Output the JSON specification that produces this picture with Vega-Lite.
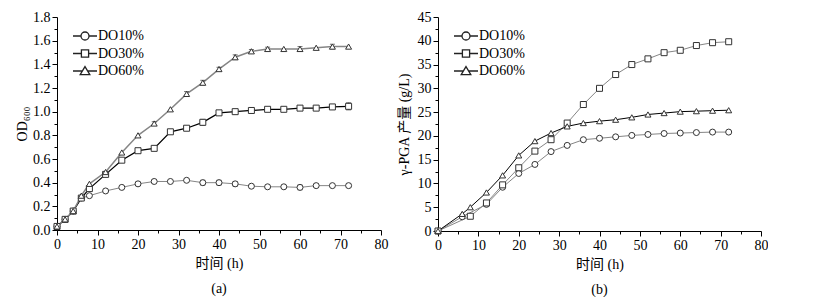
{
  "$schema": "https://vega.github.io/schema/vega-lite/v6.json",
  "padding": {"left": 15, "top": 10, "right": 0, "bottom": 0},
  "spacing": 9,
  "background": "white",
  "resolve": {"scale": {"stroke": "independent", "strokeWidth": "independent", "shape": "independent"}},
  "config": {
    "view": {"stroke": null},
    "font": "'Liberation Serif', 'Noto Sans CJK SC', serif",
    "axis": {
      "domainColor": "#000",
      "domainWidth": 1,
      "tickColor": "#000",
      "tickWidth": 1,
      "grid": false,
      "labelFont": "'Liberation Serif', serif",
      "labelFontSize": 14,
      "labelColor": "#000",
      "titleFont": "'Liberation Serif', 'Noto Sans CJK SC', serif",
      "titleFontSize": 14,
      "titleFontWeight": "normal",
      "titleColor": "#000",
      "labelPadding": 2
    },
    "legend": {
      "labelFont": "'Liberation Serif', serif",
      "labelFontSize": 14,
      "labelColor": "#000"
    },
    "title": {
      "font": "'Liberation Serif', serif",
      "fontSize": 14,
      "fontWeight": "normal",
      "color": "#000"
    }
  },
  "datasets": {
    "od": [
      {"t": 0, "s": "DO10%", "v": 0.03}, {"t": 2, "s": "DO10%", "v": 0.09}, {"t": 4, "s": "DO10%", "v": 0.16}, {"t": 6, "s": "DO10%", "v": 0.27}, {"t": 8, "s": "DO10%", "v": 0.29}, {"t": 12, "s": "DO10%", "v": 0.33}, {"t": 16, "s": "DO10%", "v": 0.36}, {"t": 20, "s": "DO10%", "v": 0.39, "err": 0.015}, {"t": 24, "s": "DO10%", "v": 0.41, "err": 0.015}, {"t": 28, "s": "DO10%", "v": 0.41}, {"t": 32, "s": "DO10%", "v": 0.42}, {"t": 36, "s": "DO10%", "v": 0.40, "err": 0.02}, {"t": 40, "s": "DO10%", "v": 0.40, "err": 0.02}, {"t": 44, "s": "DO10%", "v": 0.39, "err": 0.02}, {"t": 48, "s": "DO10%", "v": 0.37}, {"t": 52, "s": "DO10%", "v": 0.365}, {"t": 56, "s": "DO10%", "v": 0.365}, {"t": 60, "s": "DO10%", "v": 0.36, "err": 0.02}, {"t": 64, "s": "DO10%", "v": 0.375, "err": 0.015}, {"t": 68, "s": "DO10%", "v": 0.375}, {"t": 72, "s": "DO10%", "v": 0.375, "err": 0.015},
      {"t": 0, "s": "DO30%", "v": 0.03}, {"t": 2, "s": "DO30%", "v": 0.09}, {"t": 4, "s": "DO30%", "v": 0.16}, {"t": 6, "s": "DO30%", "v": 0.27}, {"t": 8, "s": "DO30%", "v": 0.35}, {"t": 12, "s": "DO30%", "v": 0.47}, {"t": 16, "s": "DO30%", "v": 0.59}, {"t": 20, "s": "DO30%", "v": 0.67, "err": 0.015}, {"t": 24, "s": "DO30%", "v": 0.69}, {"t": 28, "s": "DO30%", "v": 0.83}, {"t": 32, "s": "DO30%", "v": 0.86, "err": 0.015}, {"t": 36, "s": "DO30%", "v": 0.91, "err": 0.025}, {"t": 40, "s": "DO30%", "v": 0.99, "err": 0.015}, {"t": 44, "s": "DO30%", "v": 1.00, "err": 0.02}, {"t": 48, "s": "DO30%", "v": 1.01}, {"t": 52, "s": "DO30%", "v": 1.02}, {"t": 56, "s": "DO30%", "v": 1.02}, {"t": 60, "s": "DO30%", "v": 1.03, "err": 0.02}, {"t": 64, "s": "DO30%", "v": 1.03}, {"t": 68, "s": "DO30%", "v": 1.04}, {"t": 72, "s": "DO30%", "v": 1.045, "err": 0.03},
      {"t": 0, "s": "DO60%", "v": 0.03}, {"t": 2, "s": "DO60%", "v": 0.09}, {"t": 4, "s": "DO60%", "v": 0.16}, {"t": 6, "s": "DO60%", "v": 0.29}, {"t": 8, "s": "DO60%", "v": 0.39}, {"t": 12, "s": "DO60%", "v": 0.49}, {"t": 16, "s": "DO60%", "v": 0.655}, {"t": 20, "s": "DO60%", "v": 0.80}, {"t": 24, "s": "DO60%", "v": 0.90, "err": 0.015}, {"t": 28, "s": "DO60%", "v": 1.02}, {"t": 32, "s": "DO60%", "v": 1.15, "err": 0.02}, {"t": 36, "s": "DO60%", "v": 1.245, "err": 0.02}, {"t": 40, "s": "DO60%", "v": 1.36, "err": 0.015}, {"t": 44, "s": "DO60%", "v": 1.46, "err": 0.02}, {"t": 48, "s": "DO60%", "v": 1.51, "err": 0.015}, {"t": 52, "s": "DO60%", "v": 1.53, "err": 0.015}, {"t": 56, "s": "DO60%", "v": 1.53}, {"t": 60, "s": "DO60%", "v": 1.53, "err": 0.02}, {"t": 64, "s": "DO60%", "v": 1.54}, {"t": 68, "s": "DO60%", "v": 1.55, "err": 0.02}, {"t": 72, "s": "DO60%", "v": 1.55}
    ],
    "pga": [
      {"t": 0, "s": "DO10%", "v": 0}, {"t": 6, "s": "DO10%", "v": 3.0}, {"t": 12, "s": "DO10%", "v": 5.6}, {"t": 16, "s": "DO10%", "v": 9.2}, {"t": 20, "s": "DO10%", "v": 12.1}, {"t": 24, "s": "DO10%", "v": 14.0}, {"t": 28, "s": "DO10%", "v": 16.7}, {"t": 32, "s": "DO10%", "v": 18.0}, {"t": 36, "s": "DO10%", "v": 19.2}, {"t": 40, "s": "DO10%", "v": 19.5}, {"t": 44, "s": "DO10%", "v": 19.8}, {"t": 48, "s": "DO10%", "v": 20.1}, {"t": 52, "s": "DO10%", "v": 20.3}, {"t": 56, "s": "DO10%", "v": 20.5}, {"t": 60, "s": "DO10%", "v": 20.6}, {"t": 64, "s": "DO10%", "v": 20.7}, {"t": 68, "s": "DO10%", "v": 20.8}, {"t": 72, "s": "DO10%", "v": 20.8},
      {"t": 0, "s": "DO30%", "v": 0}, {"t": 8, "s": "DO30%", "v": 3.1}, {"t": 12, "s": "DO30%", "v": 5.9}, {"t": 16, "s": "DO30%", "v": 9.7}, {"t": 20, "s": "DO30%", "v": 13.3}, {"t": 24, "s": "DO30%", "v": 16.8}, {"t": 28, "s": "DO30%", "v": 19.2}, {"t": 32, "s": "DO30%", "v": 22.7}, {"t": 36, "s": "DO30%", "v": 26.6}, {"t": 40, "s": "DO30%", "v": 30.0}, {"t": 44, "s": "DO30%", "v": 32.9, "err": 0.5}, {"t": 48, "s": "DO30%", "v": 35.0}, {"t": 52, "s": "DO30%", "v": 36.2}, {"t": 56, "s": "DO30%", "v": 37.5}, {"t": 60, "s": "DO30%", "v": 38.0}, {"t": 64, "s": "DO30%", "v": 39.0}, {"t": 68, "s": "DO30%", "v": 39.6}, {"t": 72, "s": "DO30%", "v": 39.8},
      {"t": 0, "s": "DO60%", "v": 0}, {"t": 6, "s": "DO60%", "v": 3.6}, {"t": 8, "s": "DO60%", "v": 5.0}, {"t": 12, "s": "DO60%", "v": 8.1}, {"t": 16, "s": "DO60%", "v": 11.7}, {"t": 20, "s": "DO60%", "v": 15.9}, {"t": 24, "s": "DO60%", "v": 18.9}, {"t": 28, "s": "DO60%", "v": 20.6}, {"t": 32, "s": "DO60%", "v": 22.0}, {"t": 36, "s": "DO60%", "v": 22.7}, {"t": 40, "s": "DO60%", "v": 23.1}, {"t": 44, "s": "DO60%", "v": 23.4}, {"t": 48, "s": "DO60%", "v": 23.9}, {"t": 52, "s": "DO60%", "v": 24.5}, {"t": 56, "s": "DO60%", "v": 24.8}, {"t": 60, "s": "DO60%", "v": 25.1}, {"t": 64, "s": "DO60%", "v": 25.2}, {"t": 68, "s": "DO60%", "v": 25.3}, {"t": 72, "s": "DO60%", "v": 25.4}
    ]
  },
  "hconcat": [
    {
      "width": 324,
      "height": 213,
      "data": {"name": "od"},
      "title": {"text": "(a)", "orient": "bottom", "offset": 12},
      "encoding": {
        "x": {"field": "t", "type": "quantitative",
          "scale": {"domain": [0, 80], "nice": false},
          "axis": {"title": "时间 (h)", "titlePadding": 5,
            "values": [0, 5, 10, 15, 20, 25, 30, 35, 40, 45, 50, 55, 60, 65, 70, 75, 80],
            "labelExpr": "datum.value % 10 === 0 ? datum.label : ''",
            "tickSize": {"condition": {"test": "datum.value % 10 === 0", "value": 5}, "value": 3},
            "labelFlush": false, "labelOverlap": false}},
        "y": {"field": "v", "type": "quantitative",
          "scale": {"domain": [0, 1.8], "nice": false},
          "axis": {"title": "OD₆₀₀", "titlePadding": 3,
            "values": [0, 0.1, 0.2, 0.3, 0.4, 0.5, 0.6, 0.7, 0.8, 0.9, 1.0, 1.1, 1.2, 1.3, 1.4, 1.5, 1.6, 1.7, 1.8],
            "labelExpr": "round(datum.value * 10) % 2 === 0 ? format(datum.value, '.1f') : ''",
            "tickSize": {"condition": {"test": "round(datum.value * 10) % 2 === 0", "value": 5}, "value": 3},
            "labelFlush": false, "labelOverlap": false}}
      },
      "resolve": {"scale": {"shape": "independent"}},
      "layer": [
        {
          "mark": {"type": "line"},
          "encoding": {
            "detail": {"field": "s"},
            "stroke": {"field": "s", "type": "nominal", "legend": null,
              "scale": {"domain": ["DO10%", "DO30%", "DO60%"], "range": ["#858585", "#000000", "#858585"]}},
            "strokeWidth": {"field": "s", "type": "nominal", "legend": null,
              "scale": {"domain": ["DO10%", "DO30%", "DO60%"], "range": [1, 1.5, 1]}}
          }
        },
        {
          "transform": [{"filter": "datum.err > 0"}],
          "mark": {"type": "errorbar", "ticks": {"size": 5}, "color": "#333"},
          "encoding": {"yError": {"field": "err"}}
        },
        {
          "mark": {"type": "point", "filled": false, "fill": "white", "fillOpacity": 1, "stroke": "#333", "strokeWidth": 1, "size": 36},
          "encoding": {
            "shape": {"field": "s", "type": "nominal", "legend": null,
              "scale": {"domain": ["DO10%", "DO30%", "DO60%"], "range": ["circle", "square", "triangle-up"]}}
          }
        },
        {
          "mark": {"type": "point", "opacity": 0},
          "encoding": {
            "shape": {"field": "s", "type": "nominal",
              "scale": {"domain": ["DO10%", "DO30%", "DO60%"],
                "range": [
                  "M-3,0H-1M1,0H3M-1,0A1,1,0,1,1,1,0A1,1,0,1,1,-1,0Z",
                  "M-3,0H-0.9M0.9,0H3M-0.9,-0.9H0.9V0.9H-0.9Z",
                  "M-3,0H-0.6M0.6,0H3M0,-1.1L1.2,0.9H-1.2Z"]},
              "legend": {"title": null, "orient": "none", "legendX": 21, "legendY": 12,
                "symbolSize": 64, "symbolFillColor": "white", "symbolStrokeColor": "#222", "symbolStrokeWidth": 1.3,
                "symbolOpacity": 1, "labelOffset": 6, "rowPadding": 3.5,
                "encode": {"symbols": {"update": {"opacity": {"value": 1}}}}}}
          }
        }
      ]
    },
    {
      "width": 323,
      "height": 214,
      "data": {"name": "pga"},
      "title": {"text": "(b)", "orient": "bottom", "offset": 12},
      "encoding": {
        "x": {"field": "t", "type": "quantitative",
          "scale": {"domain": [0, 80], "nice": false},
          "axis": {"title": "时间 (h)", "titlePadding": 5,
            "values": [0, 5, 10, 15, 20, 25, 30, 35, 40, 45, 50, 55, 60, 65, 70, 75, 80],
            "labelExpr": "datum.value % 10 === 0 ? datum.label : ''",
            "tickSize": {"condition": {"test": "datum.value % 10 === 0", "value": 5}, "value": 3},
            "labelFlush": false, "labelOverlap": false}},
        "y": {"field": "v", "type": "quantitative",
          "scale": {"domain": [0, 45], "nice": false},
          "axis": {"title": "γ-PGA 产量 (g/L)", "titlePadding": 6,
            "values": [0, 2.5, 5, 7.5, 10, 12.5, 15, 17.5, 20, 22.5, 25, 27.5, 30, 32.5, 35, 37.5, 40, 42.5, 45],
            "labelExpr": "datum.value % 5 === 0 ? format(datum.value, 'd') : ''",
            "tickSize": {"condition": {"test": "datum.value % 5 === 0", "value": 5}, "value": 3},
            "labelFlush": false, "labelOverlap": false}}
      },
      "resolve": {"scale": {"shape": "independent"}},
      "layer": [
        {
          "mark": {"type": "line"},
          "encoding": {
            "detail": {"field": "s"},
            "stroke": {"field": "s", "type": "nominal", "legend": null,
              "scale": {"domain": ["DO10%", "DO30%", "DO60%"], "range": ["#858585", "#858585", "#000000"]}},
            "strokeWidth": {"field": "s", "type": "nominal", "legend": null,
              "scale": {"domain": ["DO10%", "DO30%", "DO60%"], "range": [1, 1, 2]}}
          }
        },
        {
          "transform": [{"filter": "datum.err > 0"}],
          "mark": {"type": "errorbar", "ticks": {"size": 5}, "color": "#333"},
          "encoding": {"yError": {"field": "err"}}
        },
        {
          "mark": {"type": "point", "filled": false, "fill": "white", "fillOpacity": 1, "stroke": "#333", "strokeWidth": 1, "size": 36},
          "encoding": {
            "shape": {"field": "s", "type": "nominal", "legend": null,
              "scale": {"domain": ["DO10%", "DO30%", "DO60%"], "range": ["circle", "square", "triangle-up"]}}
          }
        },
        {
          "mark": {"type": "point", "opacity": 0},
          "encoding": {
            "shape": {"field": "s", "type": "nominal",
              "scale": {"domain": ["DO10%", "DO30%", "DO60%"],
                "range": [
                  "M-3,0H-1M1,0H3M-1,0A1,1,0,1,1,1,0A1,1,0,1,1,-1,0Z",
                  "M-3,0H-0.9M0.9,0H3M-0.9,-0.9H0.9V0.9H-0.9Z",
                  "M-3,0H-0.6M0.6,0H3M0,-1.1L1.2,0.9H-1.2Z"]},
              "legend": {"title": null, "orient": "none", "legendX": 21, "legendY": 12,
                "symbolSize": 64, "symbolFillColor": "white", "symbolStrokeColor": "#222", "symbolStrokeWidth": 1.3,
                "symbolOpacity": 1, "labelOffset": 6, "rowPadding": 3.5,
                "encode": {"symbols": {"update": {"opacity": {"value": 1}}}}}}
          }
        }
      ]
    }
  ]
}
